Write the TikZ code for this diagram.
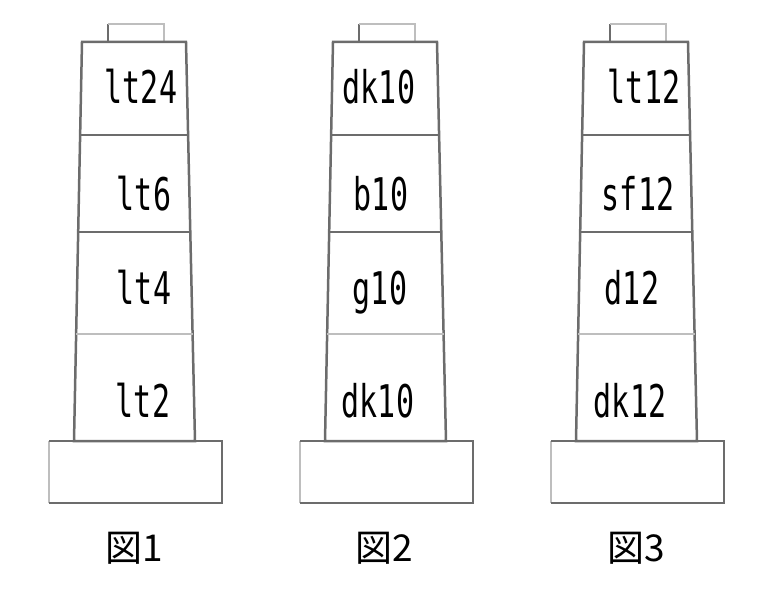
\documentclass[tikz,border=0pt]{standalone}
\usepackage{fontspec}
\usetikzlibrary{calc}
\newfontfamily\labelfont{DejaVu Sans Mono}
\newfontfamily\jpfont{Noto Sans CJK JP}
\definecolor{edgegray}{RGB}{108,108,108}
\definecolor{lightedge}{RGB}{190,190,190}

\begin{document}
\begin{tikzpicture}[x=1pt,y=-1pt,
	edge/.style={draw=edgegray, line width=2.5pt},
	softedge/.style={draw=lightedge, line width=2.5pt},
	blocklabel/.style={font=\labelfont\fontsize{30}{30}\selectfont, yscale=1.5, inner sep=0pt, anchor=base},
	figlabel/.style={font=\jpfont\fontsize{37}{37}\selectfont, inner sep=0pt, anchor=base west}]
	\useasboundingbox (0,0) rectangle (780,594);
	% Parameters
	\def\towershift{251}
	
	%towers
	\foreach \t in {0,1,2} {
		\begin{scope}[xshift={\t*\towershift}]
			\coordinate (tl\t) at (82,42);
			\coordinate (tr\t) at (186,42);
			\coordinate (bl\t) at (74,441);
			\coordinate (br\t) at (195,441);
			%cap
			\draw[edge] (108,42) -- (108,24);
			\draw[softedge] (108,24) -- (164,24) -- (164,42);
			%body
			\draw[edge] (tl\t) -- (tr\t) -- (br\t) -- (bl\t) -- cycle;
			\draw[edge] ($(tl\t)!0.233!(bl\t)$) -- ($(tr\t)!0.233!(br\t)$);
			\draw[edge] ($(tl\t)!0.476!(bl\t)$) -- ($(tr\t)!0.476!(br\t)$);
			\draw[softedge] ($(tl\t)!0.732!(bl\t)$) -- ($(tr\t)!0.732!(br\t)$);
			%base
			\draw[softedge] (49,503) -- (49,441);
			\draw[edge] (49,441) -- (222,441) -- (222,503) -- (49,503);
		\end{scope}
	}
	
	%captions
	\node[figlabel] (fig1) at (105,561) {図1};
	\node[figlabel] (fig2) at (355,561) {図2};
	\node[figlabel] (fig3) at (607,561) {図3};
	
	%tower 1
	\node[blocklabel] (a1) at (141,103) {lt24};
	\node[blocklabel] (a2) at (144,210) {lt6};
	\node[blocklabel] (a3) at (144,304) {lt4};
	\node[blocklabel] (a4) at (143,417) {lt2};
	%tower 2
	\node[blocklabel] (b1) at (379,103) {dk10};
	\node[blocklabel] (b2) at (381,210) {b10};
	\node[blocklabel] (b3) at (380,304) {g10};
	\node[blocklabel] (b4) at (378,417) {dk10};
	%tower 3
	\node[blocklabel] (c1) at (644,103) {lt12};
	\node[blocklabel] (c2) at (638,210) {sf12};
	\node[blocklabel] (c3) at (632,304) {d12};
	\node[blocklabel] (c4) at (630,417) {dk12};
\end{tikzpicture}
\end{document}
